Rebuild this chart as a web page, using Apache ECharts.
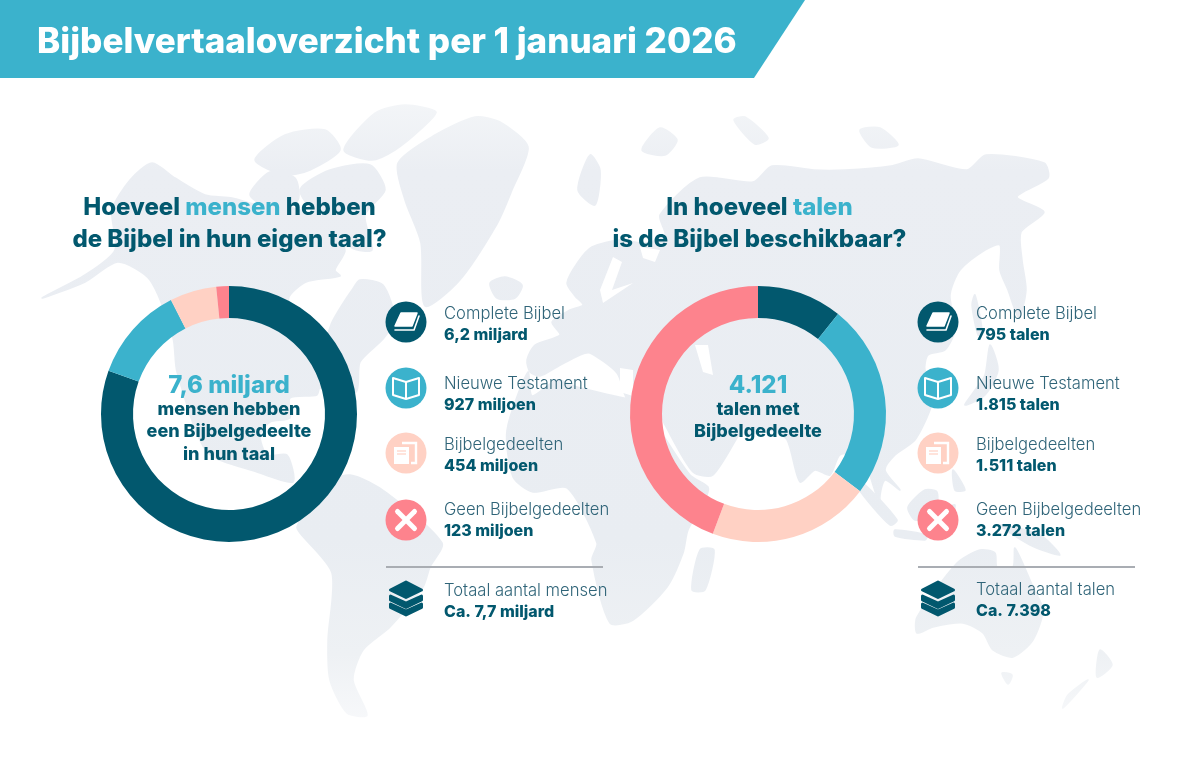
<!DOCTYPE html>
<html><head><meta charset="utf-8">
<style>html,body{margin:0;padding:0;background:#fff}#c{width:1200px;height:769px}</style>
<script src="https://cdn.jsdelivr.net/npm/echarts@6/dist/echarts.min.js"></script>
</head><body><div id="c"></div>
<script>
// ---- chart data ----
const categories = ['Complete Bijbel', 'Nieuwe Testament', 'Bijbelgedeelten', 'Geen Bijbelgedeelten'];
const peopleValues = [6200, 927, 454, 123];            // millions
const peopleLabels = ['6,2 miljard', '927 miljoen', '454 miljoen', '123 miljoen'];
const languageValues = [795, 1815, 1511, 3272];        // languages
const languageLabels = ['795 talen', '1.815 talen', '1.511 talen', '3.272 talen'];
const chartTitle = 'Bijbelvertaaloverzicht per 1 januari 2026';

const DARK = '#02586e', TEAL = '#3bb2cc', PEACH = '#ffd1c4', CORAL = '#fd838d', SUB = '#2f6478';
const LAND = { type: 'linear', global: true, x: 0, y: 95, x2: 0, y2: 730, colorStops: [
  { offset: 0, color: '#f4f6f8' }, { offset: 0.12, color: '#ebeef3' }, { offset: 0.7, color: '#e9edf2' }, { offset: 0.88, color: '#eef1f4' }, { offset: 1, color: '#f8f9fb' } ] };
const sliceColors = [DARK, TEAL, PEACH, CORAL];
const FONT = 'Inter';

// ---- decorative background map (rough outlines, not data) ----
const landShapes = [
 // North America
 [[42,298],[85,275],[115,250],[112,210],[130,180],[152,163],[175,178],[205,195],[232,198],[258,205],[282,205],[300,210],[325,218],[345,250],[335,270],[340,276],[306,282],[289,297],[292,315],[305,325],[326,335],[332,322],[342,305],[352,290],[360,280],[383,285],[395,320],[383,339],[360,362],[356,392],[320,388],[317,395],[290,398],[290,418],[270,422],[260,435],[267,455],[287,455],[293,482],[257,472],[207,452],[177,372],[173,338],[150,280],[118,262],[85,282]],
 // Arctic islands
 [[344,150],[375,113],[405,105],[436,112],[420,130],[395,150],[372,160]],
 [[300,190],[330,170],[370,165],[385,190],[365,215],[372,250],[352,248],[320,220]],
 [[255,160],[285,135],[325,130],[340,150],[310,170],[285,175]],
 [[250,195],[270,172],[295,178],[298,200],[275,210]],
 // Greenland
 [[398,163],[435,135],[475,117],[500,122],[528,147],[512,190],[497,224],[459,281],[425,306],[421,243],[405,200]],
 // Iceland
 [[490,283],[505,277],[522,285],[515,298],[497,298]],
 // South America
 [[317,487],[350,475],[387,493],[442,543],[430,567],[423,587],[390,627],[363,650],[353,680],[367,715],[347,713],[330,680],[328,640],[332,573],[300,533],[297,527]],
 // Eurasia
 [[530,372],[527,360],[535,345],[560,335],[552,322],[570,310],[583,305],[575,296],[567,283],[578,262],[592,247],[620,240],[645,243],[665,235],[660,215],[700,178],[753,182],[772,166],[814,170],[845,170],[891,166],[918,159],[967,170],[986,155],[1044,163],[1048,178],[1017,197],[1044,212],[1021,232],[1022,260],[1026,290],[1019,318],[1008,290],[1000,270],[1000,245],[985,250],[960,270],[950,295],[955,330],[945,350],[928,355],[925,370],[935,385],[930,410],[915,440],[895,455],[885,470],[900,490],[885,480],[880,500],[890,515],[880,505],[868,470],[860,455],[840,455],[830,475],[815,470],[800,482],[787,440],[770,430],[745,435],[745,425],[713,475],[693,472],[665,425],[655,405],[630,405],[625,395],[617,373],[590,353],[580,355],[557,367],[540,376]],
 // Africa
 [[528,372],[532,396],[557,380],[577,387],[610,395],[645,405],[660,430],[690,475],[708,487],[705,500],[688,530],[683,553],[667,587],[633,620],[610,623],[592,560],[597,543],[567,488],[533,492],[513,477],[507,430]],
 // Madagascar
 [[700,550],[714,550],[705,590],[692,590]],
 // Novaya Zemlya, Svalbard, other Arctic islands
 [[684,210],[692,190],[703,178],[700,195],[690,212]],
 [[642,150],[660,128],[677,140],[665,155]],
 [[734,120],[745,117],[768,138],[755,144]],
 [[860,130],[880,128],[898,145],[872,147]],
 [[578,190],[590,155],[600,170],[595,205]],
 // Japan and Sakhalin
 [[990,345],[998,370],[985,395],[965,405],[975,390],[985,375]],
 [[975,295],[982,330],[978,335],[972,305]],
 // South-east Asia
 [[863,483],[897,520],[890,525],[858,488]],
 [[895,530],[927,535],[925,540],[895,536]],
 [[908,507],[925,490],[937,492],[935,515],[915,520]],
 [[945,510],[955,505],[950,525]],
 [[953,470],[965,490],[955,490]],
 [[1000,525],[1040,535],[1060,555],[1030,545]],
 // Australia, Tasmania, New Zealand
 [[917,633],[917,617],[957,563],[980,550],[995,553],[997,567],[1013,567],[1015,548],[1033,587],[1043,610],[1033,640],[1013,657],[993,650],[983,633],[963,623],[933,627]],
 [[1002,673],[1012,675],[1008,684]],
 [[1100,650],[1112,665],[1097,677]],
 [[1088,680],[1063,708],[1068,695]]
];
const waterShapes = [
 [[613,257],[600,290],[603,303],[633,283],[612,290],[622,262]],  // Baltic
 [[695,345],[708,345],[713,375],[703,372]],                      // Caspian
 [[620,368],[633,370],[633,396],[620,392]],                      // Black Sea
 [[640,247],[660,250],[655,262],[643,258]]                       // White Sea
];

// ---- helpers ----
const txt = (x, y, text, size, weight, color, align) => ({
  type: 'text', x, y: y + 1,
  style: { text, fontFamily: FONT, fontSize: size, fontWeight: weight, fill: color, align: align || 'left', verticalAlign: 'middle' }
});
const poly = (points, fill) => ({
  type: 'polygon', shape: { points, smooth: 0.25 },
  style: { fill, stroke: fill, lineWidth: 1.5, lineJoin: 'round' }, silent: true
});
const disc = (cx, cy, fill) => ({ type: 'circle', shape: { cx, cy, r: 20.5 }, style: { fill } });
const shift = (pts, dx, dy) => pts.map(p => [p[0] + dx, p[1] + dy]);

function icon(i, cx, cy) {
  const w = '#fff';
  if (i === 0) return [disc(cx, cy, DARK),
    { type: 'polygon', shape: { points: shift([[-5,-9],[11,-9],[6,4],[-11,4]], cx, cy) }, style: { fill: w, stroke: w, lineWidth: 1.5, lineJoin: 'round' } },
    { type: 'polyline', shape: { points: shift([[13,-6],[8,8],[-11,8]], cx, cy) }, style: { fill: 'none', stroke: w, lineWidth: 1.6, lineCap: 'round' } }];
  if (i === 1) return [disc(cx, cy, TEAL),
    { type: 'polygon', shape: { points: shift([[0,-6],[-13,-10],[-13,7],[0,11],[13,7],[13,-10]], cx, cy) }, style: { fill: 'none', stroke: w, lineWidth: 2, lineJoin: 'round' } },
    { type: 'line', shape: { x1: cx, y1: cy - 6, x2: cx, y2: cy + 11 }, style: { stroke: w, lineWidth: 2 } }];
  if (i === 2) return [disc(cx, cy, PEACH),
    { type: 'polyline', shape: { points: shift([[-4,-10],[10,-10],[10,10],[5,10]], cx, cy) }, style: { fill: 'none', stroke: w, lineWidth: 2.4 } },
    { type: 'rect', shape: { x: cx - 12, y: cy - 6, width: 15, height: 17 }, style: { fill: w } },
    { type: 'line', shape: { x1: cx - 9, y1: cy - 2, x2: cx, y2: cy - 2 }, style: { stroke: PEACH, lineWidth: 1.2 } },
    { type: 'line', shape: { x1: cx - 9, y1: cy + 1, x2: cx, y2: cy + 1 }, style: { stroke: PEACH, lineWidth: 1.2 } }];
  return [disc(cx, cy, CORAL),
    { type: 'line', shape: { x1: cx - 8.5, y1: cy - 8.5, x2: cx + 8.5, y2: cy + 8.5 }, style: { stroke: w, lineWidth: 5, lineCap: 'round' } },
    { type: 'line', shape: { x1: cx + 8.5, y1: cy - 8.5, x2: cx - 8.5, y2: cy + 8.5 }, style: { stroke: w, lineWidth: 5, lineCap: 'round' } }];
}
function stack(cx, cy) {
  const s = p => ({ type: 'polygon', shape: { points: shift(p, cx, cy) }, style: { fill: DARK, stroke: DARK, lineWidth: 3, lineJoin: 'round' } });
  return [s([[0,-16],[15.5,-8],[0,-0.5],[-15.5,-8]]),
          s([[-15.5,-2],[0,5],[15.5,-2],[15.5,2],[0,9.5],[-15.5,2]]),
          s([[-15.5,6],[0,13],[15.5,6],[15.5,9.5],[0,17],[-15.5,9.5]])];
}
const rowY = [[313,334,322],[383,404,388],[444,465,453],[509,530,520]];
function panel(x0, labels, totalLabel, totalValue, totalY) {
  const out = [];
  labels.forEach((v, i) => {
    out.push(...icon(i, x0 + 20, rowY[i][2]));
    out.push(txt(x0 + 58, rowY[i][0], categories[i], 16.6, 300, SUB));
    out.push(txt(x0 + 58, rowY[i][1], v, 16, 800, DARK));
  });
  out.push({ type: 'line', shape: { x1: x0, y1: 567, x2: x0 + 217, y2: 567 }, style: { stroke: '#a9adb3', lineWidth: 2 } });
  out.push(...stack(x0 + 20, 598));
  out.push(txt(x0 + 58, totalY, totalLabel, 16.6, 300, SUB));
  out.push(txt(x0 + 58, totalY + 21, totalValue, 16, 800, DARK));
  return out;
}
const heading = (x, y, text) => ({
  type: 'text', x, y,
  style: {
    text, align: 'center', verticalAlign: 'middle', fontFamily: FONT,
    rich: {
      d: { fontFamily: FONT, fontSize: 24, fontWeight: 800, fill: DARK, lineHeight: 32 },
      t: { fontFamily: FONT, fontSize: 24, fontWeight: 800, fill: TEAL, lineHeight: 32 }
    }
  }
});
const donut = (center, values) => ({
  type: 'pie', center, radius: [96, 128], startAngle: 90, silent: true, animation: false,
  label: { show: false }, labelLine: { show: false },
  data: values.map((value, i) => ({ name: categories[i], value, itemStyle: { color: sliceColors[i] } }))
});

const elements = [
  ...landShapes.map(p => poly(p, LAND)),
  ...waterShapes.map(p => ({ type: 'polygon', shape: { points: p }, style: { fill: '#fff' }, silent: true })),
  { type: 'polygon', shape: { points: [[0,0],[805,0],[754,78],[0,78]] }, style: { fill: TEAL } },
  txt(37, 41, chartTitle, 35, 800, '#fff'),
  heading(229.5, 224, '{d|Hoeveel }{t|mensen}{d| hebben}\n{d|de Bijbel in hun eigen taal?}'),
  heading(759.5, 224, '{d|In hoeveel }{t|talen}\n{d|is de Bijbel beschikbaar?}'),
  txt(229, 385, '7,6 miljard', 24, 800, TEAL, 'center'),
  txt(229, 409, 'mensen hebben', 18, 800, DARK, 'center'),
  txt(229, 431, 'een Bijbelgedeelte', 18, 800, DARK, 'center'),
  txt(229, 454, 'in hun taal', 18, 800, DARK, 'center'),
  txt(758, 385, '4.121', 24, 800, TEAL, 'center'),
  txt(758, 409, 'talen met', 18, 800, DARK, 'center'),
  txt(758, 431, 'Bijbelgedeelte', 18, 800, DARK, 'center'),
  ...panel(386, peopleLabels, 'Totaal aantal mensen', 'Ca. 7,7 miljard', 590),
  ...panel(918, languageLabels, 'Totaal aantal talen', 'Ca. 7.398', 589)
];

const chart = echarts.init(document.getElementById('c'), null, { renderer: 'canvas' });
chart.setOption({
  animation: false,
  backgroundColor: '#fff',
  graphic: { elements },
  series: [donut([229, 414], peopleValues), donut([758, 414], languageValues)]
});
</script></body></html>
